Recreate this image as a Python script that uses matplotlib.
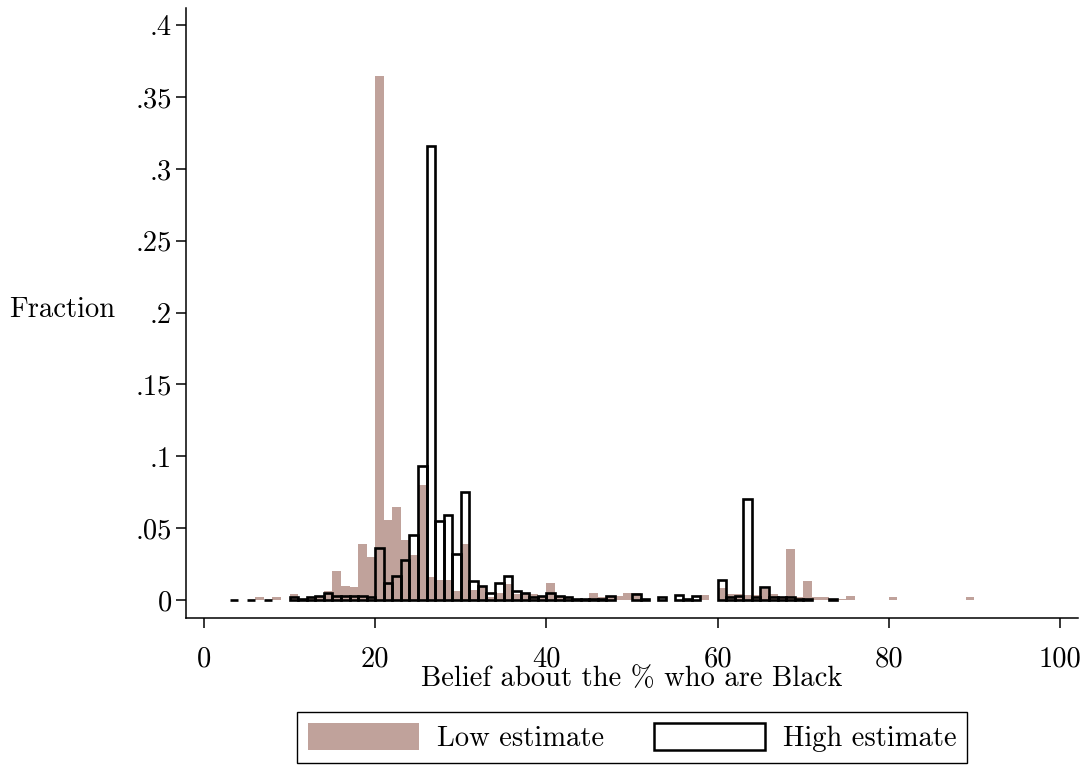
import matplotlib
matplotlib.use("Agg")
import matplotlib.pyplot as plt
from matplotlib.patches import Patch

plt.rcParams['font.family'] = ['cmr10', 'DejaVu Serif']
plt.rcParams['axes.formatter.use_mathtext'] = True

# Histogram bins (left edges, width 1) and fractions
low_bins = [6, 8, 10, 11, 12, 13, 14, 15, 16, 17, 18, 19, 20, 21, 22, 23, 24, 25, 26, 27, 28, 29,
            30, 31, 32, 33, 34, 35, 36, 37, 38, 39, 40, 41, 42, 43, 44, 45, 46, 47, 48, 49, 50,
            58, 60, 61, 62, 63, 64, 65, 66, 67, 68, 69, 70, 71, 72, 74, 75, 80, 89]
low_vals = [0.002, 0.002, 0.004, 0.001, 0.002, 0.003, 0.006, 0.020, 0.010, 0.009, 0.039, 0.030,
            0.365, 0.056, 0.065, 0.042, 0.031, 0.080, 0.016, 0.014, 0.014, 0.006,
            0.039, 0.007, 0.009, 0.002, 0.005, 0.011, 0.004, 0.0046, 0.004, 0.003, 0.012, 0.003,
            0.002, 0.001, 0.001, 0.0046, 0.002, 0.002, 0.003, 0.0046, 0.005,
            0.0035, 0.0086, 0.004, 0.004, 0.0035, 0.0035, 0.008, 0.004, 0.002, 0.0355, 0.002,
            0.0135, 0.002, 0.002, 0.001, 0.003, 0.0023, 0.002]

high_bins = [3, 5, 7, 10, 11, 12, 13, 14, 15, 16, 17, 18, 19, 20, 21, 22, 23, 24, 25, 26, 27, 28,
             29, 30, 31, 32, 33, 34, 35, 36, 37, 38, 39, 40, 41, 42, 43, 44, 45, 46, 47, 50, 51,
             53, 55, 56, 57, 60, 61, 62, 63, 64, 65, 66, 67, 68, 69, 70, 73]
high_vals = [0.0, 0.0, 0.0, 0.002, 0.001, 0.002, 0.003, 0.005, 0.003, 0.003, 0.003, 0.003, 0.002,
             0.036, 0.012, 0.017, 0.028, 0.045, 0.093, 0.316, 0.055, 0.059,
             0.032, 0.075, 0.013, 0.010, 0.005, 0.012, 0.017, 0.006, 0.0046, 0.002, 0.003, 0.005,
             0.003, 0.002, 0.001, 0.001, 0.001, 0.001, 0.003, 0.004, 0.001,
             0.002, 0.0035, 0.001, 0.003, 0.014, 0.002, 0.003, 0.070, 0.002, 0.009, 0.002,
             0.002, 0.002, 0.001, 0.001, 0.0005]

x_ticks = [0, 20, 40, 60, 80, 100]
x_ticklabels = ["0", "20", "40", "60", "80", "100"]
y_ticks = [0, 0.05, 0.1, 0.15, 0.2, 0.25, 0.3, 0.35, 0.4]
y_ticklabels = ["0", ".05", ".1", ".15", ".2", ".25", ".3", ".35", ".4"]

low_color = "#c0a29b"
fs = 20.6

fig = plt.figure(figsize=(10.89, 7.66), dpi=100)
ax = fig.add_axes([186/1089, 1 - 618/766, (1078-186)/1089, (618-8)/766])

ax.bar(low_bins, low_vals, width=1, align='edge', color=low_color, edgecolor='none', zorder=1)
ax.bar(high_bins, high_vals, width=1, align='edge', facecolor='none', edgecolor='black',
       linewidth=1.9, zorder=2)

ax.set_xlim(-2.1, 102.1)
ax.set_ylim(-0.0125, 0.412)

for s in ['top', 'right']:
    ax.spines[s].set_visible(False)
for s in ['left', 'bottom']:
    ax.spines[s].set_linewidth(1.1)

ax.set_xticks(x_ticks)
ax.set_xticklabels(x_ticklabels)
ax.set_yticks(y_ticks)
ax.set_yticklabels(y_ticklabels)
ax.tick_params(axis='x', direction='out', length=7, width=1.1, pad=13, labelsize=fs)
ax.tick_params(axis='y', direction='out', length=7, width=1.1, pad=3, labelsize=fs)

ax.set_xlabel("Belief about the % who are Black", fontsize=fs, va='center')
ax.xaxis.set_label_coords(0.5, (618 - 679) / 610)
ax.set_ylabel("Fraction", fontsize=fs, rotation=0, va='center', ha='center')
ax.yaxis.set_label_coords((62 - 186) / 892, (618 - 310) / 610)

handles = [Patch(facecolor=low_color, edgecolor='none', label='Low estimate'),
           Patch(facecolor='white', edgecolor='black', linewidth=1.8, label='High estimate')]
leg = fig.legend(handles=handles, loc='center', bbox_to_anchor=(632/1089, 1 - 737.5/766),
                 ncol=2, fontsize=fs, frameon=True, fancybox=False, framealpha=1,
                 edgecolor='black', handlelength=3.9, handleheight=1.09,
                 handletextpad=0.6, columnspacing=1.75, borderpad=0.39,
                 borderaxespad=0)
leg.get_frame().set_linewidth(1.0)

fig.savefig("out.png", dpi=100)
